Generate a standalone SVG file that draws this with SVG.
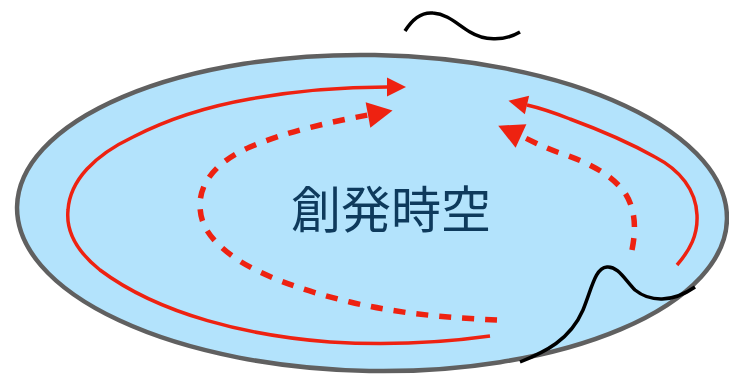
<svg xmlns="http://www.w3.org/2000/svg" width="729" height="374" viewBox="0 0 729 374">
<style>
.solid{fill:none;stroke:#ee2211;stroke-width:3.5;stroke-linecap:butt}
.dash{fill:none;stroke:#ee2211;stroke-width:5.5;stroke-dasharray:12 11}
.wave{fill:none;stroke:#000;stroke-width:3.5;stroke-linecap:butt}
</style>
<defs>
<marker id="ah" markerUnits="userSpaceOnUse" markerWidth="20" markerHeight="20" refX="0" refY="9.5" orient="auto" overflow="visible">
<path d="M0,0 L19,9.5 L0,19 z" fill="#ee2211"/>
</marker>
<marker id="ahb" markerUnits="userSpaceOnUse" markerWidth="26" markerHeight="26" refX="0" refY="13" orient="auto" overflow="visible">
<path d="M0,0 L25,13 L0,26 z" fill="#ee2211"/>
</marker>
</defs>
<g id="field">
<ellipse cx="372" cy="213" rx="355" ry="158" fill="#b3e3fc" stroke="#606060" stroke-width="4.5" transform="rotate(1 372 213)"/>
<text x="391" y="228" font-family="'Noto Sans CJK JP', 'Noto Sans CJK SC', sans-serif" font-size="50" fill="#0e3a5c" text-anchor="middle">創発時空</text>
</g>
<g id="connectors">
<path class="solid" d="M490,336 C440,343 380,345 330,342 C250,336 160,315 100,270 C75,250 66,230 68,210 C70,180 95,155 133,137 C170,118 210,106 250,99 C300,90 350,87 387,87" marker-end="url(#ah)"/>
<path class="dash" d="M497,320 C450,318 400,314 350,302 C300,290 260,275 235,258 C210,240 200,225 200,205 C200,180 220,160 250,147 C285,132 330,122 368,115" marker-end="url(#ahb)"/>
<path class="solid" d="M677,265 C690,250 698,235 697,215 C696,190 680,170 655,157 C630,143 600,130 570,119 C555,113 540,108 527,105" marker-end="url(#ah)"/>
<path class="dash" d="M632,250 C636,230 636,210 625,193 C612,175 590,163 560,153 C545,148 532,141 521,136" marker-end="url(#ahb)"/>
</g>
<g id="waves">
<path class="wave" d="M405,31 C413,18 423,12 433,13 C448,14 458,25 470,32 C483,40 503,42 520,32"/>
<path class="wave" d="M520,362 C545,352 570,340 583,310 C592,288 595,268 607,267 C618,266 625,280 635,290 C650,302 672,303 695,287"/>
</g>
</svg>
